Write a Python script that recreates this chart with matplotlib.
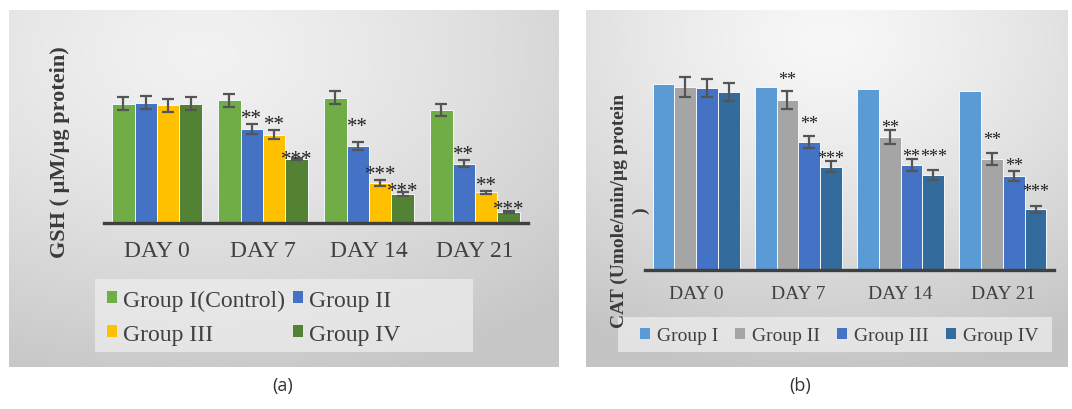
import numpy as np
import matplotlib
matplotlib.use('Agg')
import matplotlib.pyplot as plt
from matplotlib.patches import Patch, Rectangle

# ---- data ----
days = ['DAY 0', 'DAY 7', 'DAY 14', 'DAY 21']

gsh_groups = ['Group I(Control)', 'Group II', 'Group III', 'Group IV']
gsh_g1 = [9.92, 10.22, 10.44, 9.44]
gsh_g2 = [10.03, 7.83, 6.42, 4.94]
gsh_g3 = [9.83, 7.36, 3.33, 2.56]
gsh_g4 = [9.94, 5.33, 2.39, 0.94]
gsh_e1 = [0.54, 0.55, 0.53, 0.50]
gsh_e2 = [0.54, 0.44, 0.36, 0.30]
gsh_e3 = [0.54, 0.39, 0.28, 0.12]
gsh_e4 = [0.54, 0.08, 0.17, 0.08]
gsh_s1 = ['', '', '', '']
gsh_s2 = ['', '**', '**', '**']
gsh_s3 = ['', '**', '***', '**']
gsh_s4 = ['', '***', '***', '***']

cat_groups = ['Group I', 'Group II', 'Group III', 'Group IV']
cat_g1 = [10.13, 10.00, 9.89, 9.76]
cat_g2 = [9.98, 9.29, 7.24, 6.07]
cat_g3 = [9.93, 7.00, 5.71, 5.13]
cat_g4 = [9.71, 5.64, 5.18, 3.31]
cat_e2 = [0.53, 0.49, 0.38, 0.33]
cat_e3 = [0.51, 0.33, 0.33, 0.25]
cat_e4 = [0.49, 0.31, 0.27, 0.18]
cat_s1 = ['', '', '', '']
cat_s2 = ['', '**', '**', '**']
cat_s3 = ['', '**', '**', '**']
cat_s4 = ['', '***', '***', '***']

# ---- style ----
W, H = 1072, 410
plt.rcParams['font.family'] = ['Liberation Serif', 'DejaVu Serif']
txt = '#404040'
gsh_colors = ['#70AD47', '#4472C4', '#FFC000', '#548235']
cat_colors = ['#5B9BD5', '#A5A5A5', '#4472C4', '#336B9C']
# star label offsets above error bar top, in pixels (glyph centre)
gsh_off = [[0, 0, 0, 0], [0, 12, 22, 12], [0, 12, 12, 12], [0, 5, 7, 8]]
cat_off = [[0, 0, 0, 0], [0, 16, 8, 18], [0, 17, 8, 11], [0, 8, 19, 20]]

fig = plt.figure(figsize=(W / 100, H / 100), dpi=100)


def px_box(x0, y0, x1, y1):
    return [x0 / W, (H - y1) / H, (x1 - x0) / W, (y1 - y0) / H]


def panel(x0, y0, x1, y1, cx, cy, light, dark):
    bg = fig.add_axes(px_box(x0, y0, x1, y1), zorder=0)
    xx, yy = np.meshgrid(np.linspace(0, 1, 300), np.linspace(0, 1, 200))
    r = np.clip(np.sqrt(((xx - cx) / 0.95) ** 2 + ((yy - cy) / 0.95) ** 2), 0, 1)
    g = light - (light - dark) * r ** 1.3
    bg.imshow(np.dstack([g, g, g]), aspect='auto', extent=(0, 1, 1, 0))
    bg.set_axis_off()


def bars(ax, vals, errs, stars, offs, colors, labels, width, star_fs, cap):
    x = np.arange(len(days))
    handles = []
    for i, (v, c, lab) in enumerate(zip(vals, colors, labels)):
        xs = x + (i - 1.5) * width
        ax.bar(xs, v, width, color=c, edgecolor='#f4f8fc', linewidth=0.7, zorder=2)
        e = errs[i]
        if e is not None:
            ax.errorbar(xs, v, yerr=e, fmt='none', ecolor='#555555',
                        elinewidth=1.6, capsize=cap, capthick=1.6, zorder=3)
        for j in range(len(days)):
            if stars[i][j]:
                top = v[j] + (e[j] if e is not None else 0)
                ax.annotate(stars[i][j], xy=(xs[j], top),
                            xytext=(0, (offs[i][j] - 0.53 * star_fs * 100 / 72) * 0.72),
                            textcoords='offset points', ha='center', va='baseline',
                            fontsize=star_fs, color='#222222', zorder=4)
        handles.append(Patch(facecolor=c, edgecolor='none', label=lab))
    ax.set_xlim(-0.5, len(days) - 0.5)
    ax.set_xticks(x)
    ax.set_xticklabels(days)
    ax.set_yticks([])
    for s in ['top', 'right', 'left']:
        ax.spines[s].set_visible(False)
    ax.spines['bottom'].set_color('#404040')
    ax.spines['bottom'].set_linewidth(2.4)
    ax.spines['bottom'].set_zorder(5)
    ax.tick_params(axis='x', length=0, colors=txt)
    ax.set_facecolor('none')
    return handles


# ---- panel (a): GSH ----
panel(9, 11, 559, 368, 0.35, 0.12, 0.95, 0.78)
ax1 = fig.add_axes(px_box(104, 60, 528, 224), zorder=2)
h1 = bars(ax1, [gsh_g1, gsh_g2, gsh_g3, gsh_g4],
          [gsh_e1, gsh_e2, gsh_e3, gsh_e4],
          [gsh_s1, gsh_s2, gsh_s3, gsh_s4], gsh_off, gsh_colors, gsh_groups,
          0.212, 15, 4)
ax1.set_ylim(0, 164 / 12)
ax1.tick_params(axis='x', labelsize=17, pad=12)
fig.text(60 / W, 1 - 152 / H, 'GSH ( µM/µg protein)', rotation=90, ha='center',
         va='center', fontsize=16, fontweight='bold', color='#3a3a3a', zorder=6)
fig.patches.append(Rectangle((95 / W, 1 - 353 / H), 378 / W, 73 / H,
                             transform=fig.transFigure, facecolor='#ededed',
                             alpha=0.75, edgecolor='none', zorder=1))
leg1 = fig.legend([h1[0], h1[2], h1[1], h1[3]],
                  [gsh_groups[0], gsh_groups[2], gsh_groups[1], gsh_groups[3]],
                  ncol=2, loc='center left', bbox_to_anchor=(107 / W, 1 - 318 / H),
                  frameon=False, fontsize=17, handlelength=0.42, handleheight=0.42,
                  handletextpad=0.25, columnspacing=0.35, labelspacing=0.55,
                  borderpad=0, borderaxespad=0, labelcolor=txt)

# ---- panel (b): CAT ----
panel(586, 11, 1068, 368, 0.5, 0.08, 0.97, 0.77)
ax2 = fig.add_axes(px_box(645, 60, 1054, 271), zorder=2)
h2 = bars(ax2, [cat_g1, cat_g2, cat_g3, cat_g4],
          [None, cat_e2, cat_e3, cat_e4],
          [cat_s1, cat_s2, cat_s3, cat_s4], cat_off, cat_colors, cat_groups,
          0.213, 13, 4)
ax2.set_ylim(0, 211 / 18.33)
ax2.tick_params(axis='x', labelsize=14, pad=11)
fig.text(630 / W, 1 - 211 / H, 'CAT (Umole/min/µg protein\n)', rotation=90,
         ha='center', va='center', fontsize=14, fontweight='bold', color='#3a3a3a',
         multialignment='center', linespacing=1.35, zorder=6)
fig.patches.append(Rectangle((618 / W, 1 - 353 / H), 434 / W, 35 / H,
                             transform=fig.transFigure, facecolor='#ededed',
                             alpha=0.75, edgecolor='none', zorder=1))
leg2 = fig.legend(h2, cat_groups, ncol=4, loc='center left',
                  bbox_to_anchor=(640 / W, 1 - 337 / H), frameon=False, fontsize=14,
                  handlelength=0.5, handleheight=0.5, handletextpad=0.35,
                  columnspacing=0.9, borderpad=0, borderaxespad=0, labelcolor=txt)

# ---- sub-captions ----
fig.text(283 / W, 1 - 386 / H, '(a)', ha='center', va='center', fontsize=13,
         family='Open Sans', color='#333333')
fig.text(800 / W, 1 - 386 / H, '(b)', ha='center', va='center', fontsize=13,
         family='Open Sans', color='#333333')

fig.savefig('out.png', dpi=100)
